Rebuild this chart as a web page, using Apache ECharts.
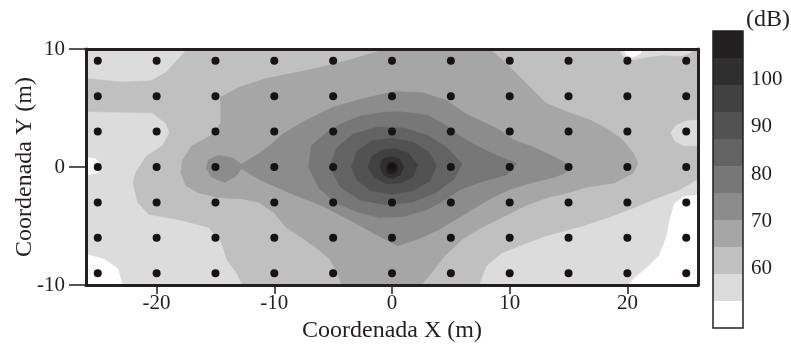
<!DOCTYPE html>
<html><head><meta charset="utf-8">
<script src="https://cdn.jsdelivr.net/npm/echarts@6/dist/echarts.min.js"></script>
<style>html,body{margin:0;padding:0;background:#fff}#c{width:791px;height:352px}</style>
</head><body><div id="c"></div>
<script>
// ---- axes / ticks ----
const xTicks = [-20, -10, 0, 10, 20];
const yTicks = [-10, 0, 10];
// ---- measurement points (m) ----
const sampleX = [-25, -20, -15, -10, -5, 0, 5, 10, 15, 20, 25];
const sampleY = [-9, -6, -3, 0, 3, 6, 9];
// ---- colour scale (dB) ----
const bandEdges = [47.5, 53.2, 58.9, 64.6, 70.3, 76.0, 81.7, 87.4, 93.1, 98.8, 104.5, 110.2];
const colorbarTicks = [60, 70, 80, 90, 100];
const bandColors = ['#ffffff', '#dcdcdc', '#c0c0c1', '#a6a6a7', '#8c8c8d', '#777778', '#636364', '#525253', '#414142', '#302f30', '#221f20'];

// ---- contour regions (band index >= k), vertices [x, y] in metres ----
const band1Area = [[-26, -10], [26, -10], [26, 10], [-26, 10]];
const band2Area = [[-17.4, 10], [26, 10], [26, -1.0], [24.5, -1.9], [22.6, -2.6], [20.7, -3.4], [18.6, -4.2], [16.2, -5.0], [13.2, -5.8], [11.3, -6.5], [9.3, -7.3], [8.0, -8.4], [7.4, -10], [-12.7, -10], [-13.2, -9.0], [-14.0, -7.9], [-14.5, -6.4], [-15.6, -5.1], [-18, -4.5], [-20.7, -4.0], [-21.6, -3.0], [-22, -1.4], [-21.8, -0.5], [-20.9, 0.9], [-19.5, 1.8], [-18.9, 2.9], [-19.2, 3.7], [-20.4, 4.6], [-26, 4.7], [-26, 7.5], [-23, 7.2], [-20.5, 7.3], [-19.2, 8.0], [-18.3, 9.0]];
const band1Bubble = [[26, 4.0], [25.0, 3.9], [24.1, 3.5], [23.7, 2.9], [24.0, 2.2], [24.8, 1.8], [26, 1.8]];
const band1TopRight = [[19.3, 10], [19.6, 9.4], [20.5, 9.1], [21.6, 9.3], [23, 9.5], [24.6, 9.4], [25.4, 9.7], [25.6, 10]];
const band0BottomLeft = [[-26, -7.4], [-24.5, -7.8], [-23.3, -8.6], [-22.9, -10], [-26, -10]];
const band0LeftEdge = [[-26, 0.8], [-25.2, 0.7], [-24.7, 0.1], [-25.0, -0.5], [-26, -0.7]];
const band0BottomRight = [[26, -2.4], [24.8, -2.5], [24.0, -3.1], [23.6, -4.5], [23.3, -6.0], [22.7, -7.5], [21.7, -8.5], [20.6, -9.4], [20.1, -10], [26, -10]];
const band0Top = [[19.7, 10], [19.9, 9.5], [20.5, 9.3], [21.1, 9.6], [21.3, 10]];
const band3Area = [[-0.5, 10], [8.3, 10], [9.4, 9.05], [10.6, 7.9], [11.7, 6.8], [13.1, 5.4], [14.8, 4.7], [16.8, 4.0], [18.5, 3.1], [19.6, 2.3], [20.5, 1.2], [20.9, 0.3], [20.5, -0.5], [18.9, -1.35], [16.6, -1.7], [14.9, -2.2], [13.2, -2.6], [11.5, -3.2], [9.5, -4.2], [7.5, -5.2], [6, -6.1], [4.5, -7.5], [3.5, -8.8], [2.5, -10], [-4.3, -10], [-4.6, -9], [-5.3, -7.8], [-6.5, -6.8], [-7.8, -5.9], [-9.0, -5.1], [-10.0, -3.9], [-11.3, -3.0], [-12.8, -2.7], [-14.7, -2.6], [-16.4, -2.2], [-17.5, -1.6], [-17.95, -0.5], [-17.8, 0.6], [-17.0, 1.8], [-15.5, 2.6], [-14.55, 3.7], [-14.55, 5.4], [-14.6, 5.9], [-12.9, 6.8], [-10.7, 7.5], [-6.7, 8.3], [-3.9, 9.0], [-1.5, 9.7]];
const band4Area = [[-12.8, 0.25], [-11.2, 1.2], [-10.2, 2.0], [-9.25, 2.83], [-7.3, 3.96], [-5.0, 5.09], [-2.46, 5.8], [0.2, 6.4], [2.6, 6.3], [4.6, 5.65], [6.3, 4.5], [8.0, 3.7], [9.2, 3.1], [10.3, 2.3], [12.0, 1.7], [13.5, 1.0], [14.5, 0.5], [15.2, 0.0], [14.6, -0.6], [13.3, -1.0], [12.0, -1.3], [10.0, -1.9], [8.5, -2.6], [7.0, -3.5], [5.5, -4.4], [4.0, -5.3], [2.5, -6.0], [0.5, -6.7], [-1.6, -5.6], [-3.6, -4.5], [-5.9, -3.3], [-8.7, -2.2], [-11.2, -1.1], [-12.8, -0.15], [-13.3, -0.8], [-14.2, -1.3], [-15.3, -0.9], [-15.8, -0.1], [-15.6, 0.6], [-14.8, 1.0], [-13.6, 0.8]];
const band5Area = [[-7.1, 0], [-6.85, 1.8], [-5.6, 2.9], [-4.45, 3.6], [-2.75, 4.3], [-1.0, 4.6], [0.5, 4.7], [3.0, 4.4], [4.5, 3.6], [5.8, 2.6], [7.0, 1.9], [8.4, 1.2], [9.6, 0.7], [10.6, 0.3], [9.8, -0.65], [8.5, -1.0], [7.2, -1.4], [5.8, -1.9], [4.5, -2.8], [3.0, -3.6], [1.0, -4.2], [-1.0, -4.3], [-3.0, -3.8], [-4.8, -3.0], [-6.2, -1.8]];
const band6Area = [[-5.3, 0], [-4.7, 1.6], [-3.3, 2.8], [-1.2, 3.4], [1.0, 3.3], [3.0, 2.7], [4.6, 1.7], [5.95, 0.3], [5.3, -1.0], [3.7, -2.2], [1.6, -3.0], [-0.6, -3.2], [-2.7, -2.8], [-4.4, -1.7]];
const band7Area = [[-3.45, 0], [-3.0, 1.3], [-1.8, 2.2], [0, 2.45], [1.8, 2.1], [3.1, 1.3], [3.8, 0.1], [3.2, -1.2], [1.8, -2.0], [0, -2.3], [-1.8, -2.0], [-3.0, -1.1]];
const band8Area = [[-2.05, 0], [-1.7, 0.9], [-0.9, 1.45], [0.3, 1.55], [1.4, 1.15], [2.2, 0.2], [1.8, -0.8], [0.8, -1.35], [-0.5, -1.4], [-1.5, -0.9]];
const band9Area = [[-1.05, 0], [-0.8, 0.65], [-0.1, 0.9], [0.6, 0.7], [1.0, 0], [0.7, -0.7], [0, -1.0], [-0.7, -0.7]];
const band10Area = [[-0.5, -0.05], [-0.3, 0.35], [0.1, 0.45], [0.45, 0.2], [0.5, -0.2], [0.25, -0.55], [-0.2, -0.6], [-0.45, -0.4]];

// drawing order: [band index, region]
const layers = [
  [1, band1Area], [2, band2Area], [1, band1Bubble], [1, band1TopRight],
  [0, band0BottomLeft], [0, band0LeftEdge], [0, band0BottomRight], [0, band0Top],
  [3, band3Area], [4, band4Area], [5, band5Area], [6, band6Area],
  [7, band7Area], [8, band8Area], [9, band9Area], [10, band10Area]
];

const ink = '#231f20';
const serif = 'Liberation Serif, Times New Roman, serif';

const points = [];
sampleY.forEach(y => sampleX.forEach(x => points.push([x, y])));

const chart = echarts.init(document.getElementById('c'), null, {renderer: 'canvas'});
chart.setOption({
  animation: false,
  backgroundColor: '#ffffff',
  title: {text: '(dB)', left: 746, top: 8, padding: 0,
          textStyle: {color: ink, fontFamily: serif, fontSize: 24, fontWeight: 'normal'}},
  grid: [
    {left: 86, top: 49, width: 612, height: 236, containLabel: false, outerBoundsMode: 'none'},
    {left: 713, top: 31, width: 30, height: 297, containLabel: false, outerBoundsMode: 'none'}
  ],
  xAxis: [
    {gridIndex: 0, type: 'value', min: -26, max: 26, position: 'bottom', z: 10,
     axisLine: {show: true, onZero: false, lineStyle: {color: ink, width: 3}},
     axisTick: {show: true, customValues: xTicks, length: 9, lineStyle: {color: ink, width: 1.5}},
     axisLabel: {customValues: xTicks, color: ink, fontFamily: serif, fontSize: 21, margin: 8},
     splitLine: {show: false},
     name: 'Coordenada X (m)', nameLocation: 'middle', nameGap: 34, nameMoveOverlap: false,
     nameTextStyle: {color: ink, fontFamily: serif, fontSize: 24}},
    {gridIndex: 0, type: 'value', min: -26, max: 26, position: 'top', z: 10,
     axisLine: {show: true, onZero: false, lineStyle: {color: ink, width: 3}},
     axisTick: {show: false}, axisLabel: {show: false}, splitLine: {show: false}},
    {gridIndex: 1, type: 'value', min: 0, max: 1, show: false}
  ],
  yAxis: [
    {gridIndex: 0, type: 'value', min: -10, max: 10, position: 'left', z: 10,
     axisLine: {show: true, onZero: false, lineStyle: {color: ink, width: 3}},
     axisTick: {show: true, customValues: yTicks, length: 17, lineStyle: {color: ink, width: 1.5}},
     axisLabel: {customValues: yTicks, color: ink, fontFamily: serif, fontSize: 21, margin: 21},
     splitLine: {show: false},
     name: 'Coordenada Y (m)', nameLocation: 'middle', nameGap: 49, nameMoveOverlap: false,
     nameTextStyle: {color: ink, fontFamily: serif, fontSize: 24}},
    {gridIndex: 0, type: 'value', min: -10, max: 10, position: 'right', z: 10,
     axisLine: {show: true, onZero: false, lineStyle: {color: ink, width: 3}},
     axisTick: {show: false}, axisLabel: {show: false}, splitLine: {show: false}},
    {gridIndex: 1, type: 'value', min: bandEdges[0], max: bandEdges[bandEdges.length - 1], position: 'right',
     axisLine: {show: false}, axisTick: {show: false}, splitLine: {show: false},
     axisLabel: {customValues: colorbarTicks, color: ink, fontFamily: serif, fontSize: 21, margin: 8}}
  ],
  series: [
    {
      type: 'custom', xAxisIndex: 0, yAxisIndex: 0, z: 1, silent: true,
      data: layers.map((l, i) => [i]),
      encode: {x: -1, y: -1},
      renderItem: function (params, api) {
        const layer = layers[params.dataIndex];
        return {
          type: 'polygon',
          shape: {points: layer[1].map(p => api.coord(p))},
          style: {fill: bandColors[layer[0]], stroke: bandColors[layer[0]], lineWidth: 0.5}
        };
      }
    },
    {
      type: 'scatter', xAxisIndex: 0, yAxisIndex: 0, z: 5, silent: true,
      symbol: 'circle', symbolSize: 8,
      itemStyle: {color: '#151313', opacity: 1},
      data: points
    },
    {
      type: 'custom', xAxisIndex: 2, yAxisIndex: 2, z: 3, silent: true,
      data: bandColors.map((c, i) => [i]).concat([[bandColors.length]]),
      encode: {x: -1, y: -1},
      renderItem: function (params, api) {
        const i = params.dataIndex;
        if (i < bandColors.length) {
          const p0 = api.coord([0, bandEdges[i + 1]]);
          const p1 = api.coord([1, bandEdges[i]]);
          return {type: 'rect', shape: {x: p0[0], y: p0[1], width: p1[0] - p0[0], height: p1[1] - p0[1]},
                  style: {fill: bandColors[i]}};
        }
        const q0 = api.coord([0, bandEdges[bandEdges.length - 1]]);
        const q1 = api.coord([1, bandEdges[0]]);
        return {type: 'rect', z2: 10, shape: {x: q0[0], y: q0[1], width: q1[0] - q0[0], height: q1[1] - q0[1]},
                style: {fill: 'none', stroke: ink, lineWidth: 1.5}};
      }
    }
  ]
});
</script>
</body></html>
